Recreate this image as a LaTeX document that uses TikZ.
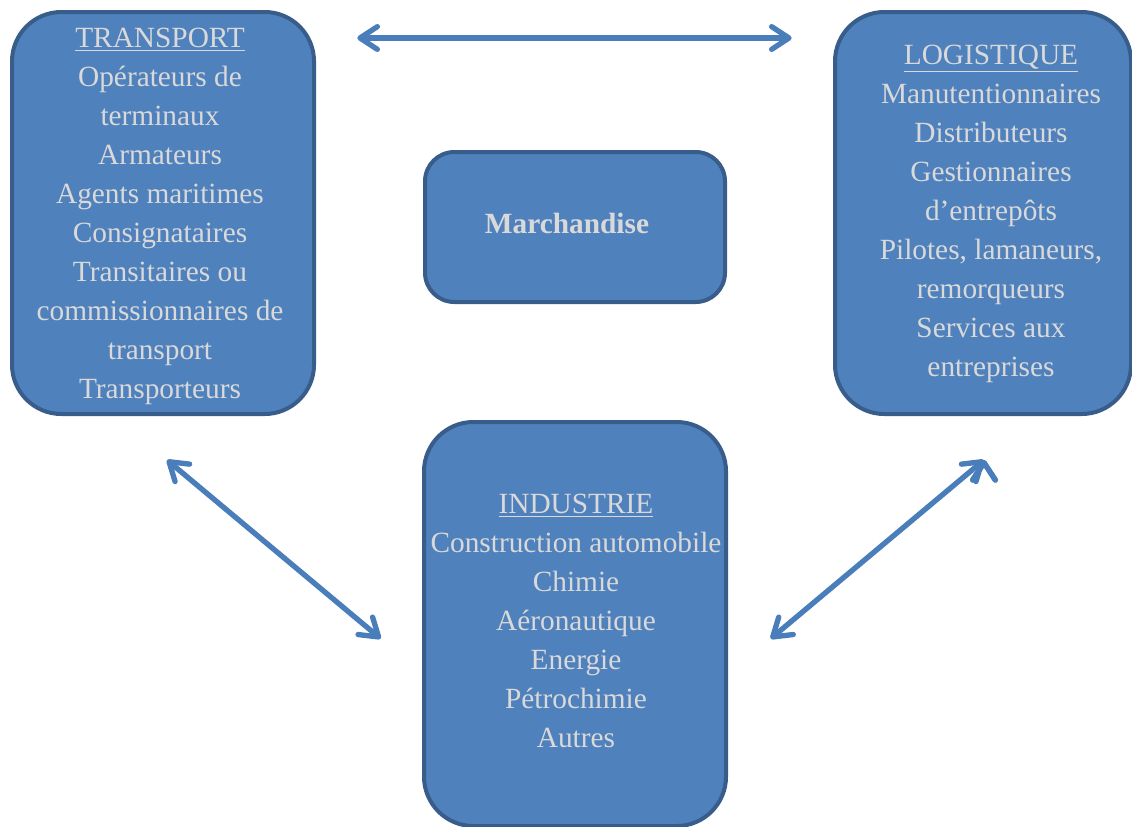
\documentclass[tikz,border=0pt]{standalone}
\usepackage{fontspec}
\setmainfont{Liberation Serif}
\usetikzlibrary{positioning}
\usetikzlibrary{arrows.meta}
\definecolor{boxfill}{HTML}{4F81BD}
\definecolor{boxline}{HTML}{385D8A}
\definecolor{boxtext}{HTML}{D9D9D9}
\definecolor{linkblue}{HTML}{4A7EBB}
\begin{document}
\begin{tikzpicture}[x=0.75pt,y=-0.75pt,
   sector/.style={rectangle,rounded corners=37pt,draw=boxline,line width=3pt,fill=boxfill,inner sep=0pt},
   sectortext/.style={text=boxtext,align=center,inner sep=0pt,font=\fontsize{22}{29.2}\selectfont},
   link/.style={draw=linkblue,line width=4pt,line cap=round,
      {Straight Barb[length=13pt,width=17pt,line cap=round,line join=round]}-{Straight Barb[length=13pt,width=17pt,line cap=round,line join=round]}}]
   \useasboundingbox (0,0) rectangle (1132,826);
   \node[sector,minimum width=226.5pt,minimum height=301.5pt] (transport) at (163,213) {};
   \node[sector,minimum width=222pt,minimum height=301.5pt] (logistique) at (983,213) {};
   \node[sector,rounded corners=22pt,minimum width=225pt,minimum height=112.5pt] (marchandise) at (575,227) {};
   \node[sector,minimum width=226.5pt,minimum height=303pt] (industrie) at (575,624) {};
   \node[sectortext] (transport text) at ([xshift=-2.25pt,yshift=-2.6pt]transport.center)
      {\underline{TRANSPORT}\\Opérateurs de\\terminaux\\Armateurs\\Agents maritimes\\Consignataires\\Transitaires ou\\commissionnaires de\\transport\\Transporteurs};
   \node[sectortext] (logistique text) at ([xshift=6pt,yshift=-0.75pt]logistique.center)
      {\underline{LOGISTIQUE}\\Manutentionnaires\\Distributeurs\\Gestionnaires\\d’entrepôts\\Pilotes, lamaneurs,\\remorqueurs\\Services aux\\entreprises};
   \node[sectortext,font=\fontsize{22}{29.2}\selectfont\bfseries] (marchandise text) at ([xshift=-6pt,yshift=3pt]marchandise.center)
      {Marchandise};
   \node[sectortext] (industrie text) at ([xshift=0.75pt,yshift=2.25pt]industrie.center)
      {\underline{INDUSTRIE}\\Construction automobile\\Chimie\\Aéronautique\\Energie\\Pétrochimie\\Autres};
    \path[link]
    ([xshift=31pt,yshift=-21pt]transport.north east) edge ([xshift=-31pt,yshift=-21pt]logistique.north west)
    ([xshift=3pt,yshift=-33pt]transport.south) edge ([xshift=-31pt,yshift=-11pt]industrie.west)
    ([xshift=0.75pt,yshift=-33pt]logistique.south) edge ([xshift=32pt,yshift=-11pt]industrie.east);
\end{tikzpicture}
\end{document}
